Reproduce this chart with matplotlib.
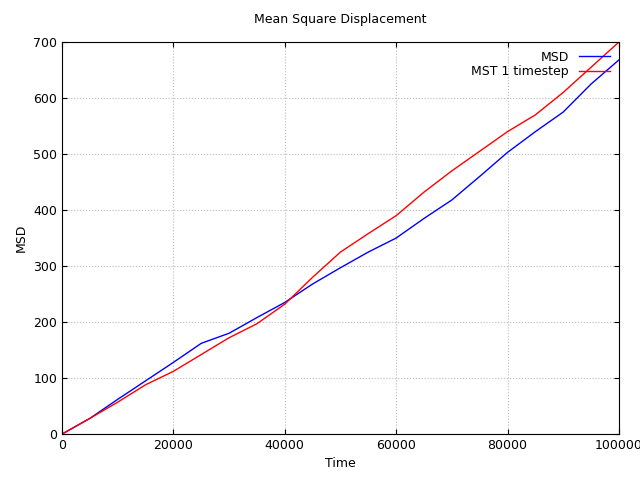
import matplotlib
matplotlib.use("Agg")
import matplotlib.pyplot as plt

time = [0, 5000, 10000, 15000, 20000, 25000, 30000, 35000, 40000, 45000, 50000,
        55000, 60000, 65000, 70000, 75000, 80000, 85000, 90000, 95000, 100000]
msd = [0, 28, 62, 95, 128, 162, 180, 208, 235, 268, 297,
       325, 350, 385, 418, 460, 503, 540, 575, 625, 668]
mst_1 = [0, 28, 57, 88, 112, 142, 172, 197, 232, 280, 325,
         358, 390, 432, 470, 505, 540, 570, 610, 655, 700]

plt.rcParams['font.size'] = 9
fig = plt.figure(figsize=(6.4, 4.78), dpi=100)
ax = fig.add_axes([0.097, 0.092, 0.87, 0.82])
ax.plot(time, msd, color="blue", lw=1, label="MSD")
ax.plot(time, mst_1, color="red", lw=1, label="MST 1 timestep")
ax.set_xlim(0, 100000)
ax.set_ylim(0, 700)
ax.set_xticks(range(0, 100001, 20000))
ax.set_yticks(range(0, 701, 100))
ax.tick_params(direction="in", top=True, right=True)
ax.grid(True, color="#bbbbbb", linestyle=":", lw=0.8)
ax.set_xlabel("Time")
ax.set_ylabel("MSD")
ax.set_title("Mean Square Displacement", fontsize=9, pad=14)
ax.legend(loc="upper right", frameon=False, markerfirst=False,
          handlelength=2.5, borderpad=0.2, labelspacing=0.1)
fig.savefig("out.png")
